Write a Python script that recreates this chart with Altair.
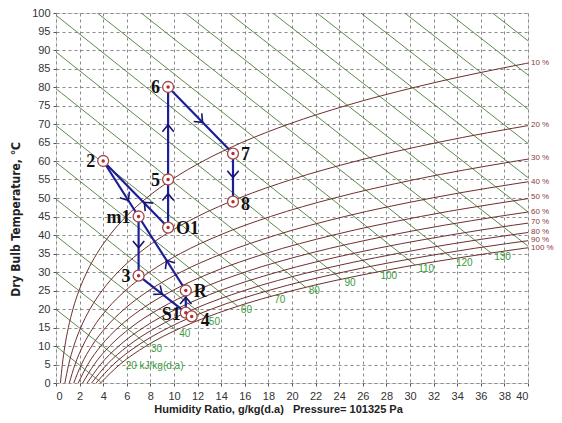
import altair as alt
import pandas as pd

# ---------------- data ----------------
# relative-humidity curves: humidity ratio (g/kg) at each dry-bulb temperature
RH_T = [0, 5, 10, 15, 20, 25, 30, 35, 40, 45, 50, 55, 60, 65, 70, 75, 80, 85, 90]
RH10_W = [0.375, 0.536, 0.755, 1.049, 1.439, 1.951, 2.617, 3.474, 4.564, 5.943, 7.671, 9.822, 12.48, 15.75, 19.75, 24.61, 30.51, 37.64, 46.24]
RH20_W = [0.752, 1.073, 1.511, 2.101, 2.885, 3.915, 5.256, 6.986, 9.197, 12.00, 15.53, 19.96, 25.47, 32.32, 40.79]
RH30_W = [1.128, 1.611, 2.270, 3.157, 4.337, 5.891, 7.918, 10.54, 13.90, 18.18, 23.60, 30.43, 39.01, 49.77]
RH40_W = [1.505, 2.150, 3.030, 4.216, 5.796, 7.880, 10.60, 14.13, 18.67, 24.47, 31.86, 41.24]
RH50_W = [1.882, 2.690, 3.793, 5.279, 7.263, 9.882, 13.31, 17.76, 23.51, 30.90, 40.35]
RH60_W = [2.260, 3.231, 4.557, 6.346, 8.735, 11.895, 16.04, 21.44, 28.43, 37.45, 49.05]
RH70_W = [2.638, 3.772, 5.322, 7.416, 10.215, 13.92, 18.79, 25.16, 33.42, 44.13]
RH80_W = [3.017, 4.315, 6.090, 8.490, 11.70, 15.96, 21.57, 28.92, 38.49, 50.95]
RH90_W = [3.396, 4.859, 6.860, 9.568, 13.196, 18.015, 24.375, 32.72, 43.64]
RH100_W = [3.775, 5.403, 7.632, 10.65, 14.70, 20.08, 27.20, 36.57, 48.87]
RH_LEVELS = [10, 20, 30, 40, 50, 60, 70, 80, 90, 100]
RH_LABELS = ["10 %", "20 %", "30 %", "40 %", "50 %", "60 %", "70 %", "80 %", "90 %", "100 %"]
RH_LABEL_T = [86.4, 69.6, 60.9, 54.4, 50.3, 46.3, 43.5, 40.8, 38.6, 36.4]

# enthalpy lines (kJ/kg): start and end points
H_VALUES = [10, 20, 30, 40, 50, 60, 70, 80, 90, 100, 110, 120, 130, 140, 150, 160, 170, 180, 190, 200]
H_START_W = [0, 0, 0, 0, 0, 0, 0, 0, 0, 0, 3.50, 7.22, 10.94, 14.66, 18.38, 22.11, 25.83, 29.55, 33.27, 36.99]
H_START_T = [9.94, 19.88, 29.82, 39.76, 49.70, 59.64, 69.58, 79.52, 89.46, 99.40, 100, 100, 100, 100, 100, 100, 100, 100, 100, 100]
H_END_W = [3.80, 5.65, 7.79, 10.19, 12.70, 15.41, 18.24, 21.17, 24.20, 27.24, 30.44, 33.64, 36.88, 40, 40, 40, 40, 40, 40, 40]
H_END_T = [0.2, 5.7, 10.3, 14.26, 17.7, 20.74, 23.44, 25.86, 28.06, 30.03, 31.88, 33.57, 35.14, 36.99, 46.24, 55.5, 64.75, 74.0, 83.25, 92.5]
H_LABEL_VALUES = [20, 30, 40, 50, 60, 70, 80, 90, 100, 110, 120, 130]
H_LABELS = ["20 kJ/kg(d.a)", "30", "40", "50", "60", "70", "80", "90", "100", "110", "120", "130"]

# process state points
P_NAMES = ["2", "m1", "O1", "5", "6", "7", "8", "3", "R", "S1", "4"]
P_W = [4.0, 7.0, 9.5, 9.5, 9.5, 15.0, 15.0, 7.0, 11.0, 11.0, 11.5]
P_T = [60, 45, 42, 55, 80, 62, 49, 29, 25, 19, 18]

# process lines
SEG_FROM = ["2", "2", "m1", "3", "S1", "R", "O1", "5", "6", "7"]
SEG_TO = ["m1", "O1", "3", "S1", "R", "m1", "5", "6", "7", "8"]

# direction arrows along the process lines
ARROW_W = [9.5, 9.5, 12.25, 15.0, 6.0, 7.66, 7.0, 8.8, 11.0, 9.5]
ARROW_T = [50.4, 69.0, 71.0, 56.3, 50.0, 48.3, 37.3, 24.5, 22.4, 32.5]
ARROW_ANGLE = [180, 180, 315, 0, 327, 135, 0, 308, 180, 148]

# ---------------- tables ----------------
rh_rows = []
for rh, ws in zip(RH_LEVELS, [RH10_W, RH20_W, RH30_W, RH40_W, RH50_W, RH60_W, RH70_W, RH80_W, RH90_W, RH100_W]):
    for t, w in zip(RH_T, ws):
        rh_rows.append({"rh": rh, "W": w, "T": t})
rh_df = pd.DataFrame(rh_rows)

rh_lab_df = pd.DataFrame({"label": RH_LABELS, "W": [40] * len(RH_LABELS), "T": RH_LABEL_T})

h_rows = []
for h, sw, st, ew, et in zip(H_VALUES, H_START_W, H_START_T, H_END_W, H_END_T):
    h_rows.append({"h": h, "W": sw, "T": st, "o": 0})
    h_rows.append({"h": h, "W": ew, "T": et, "o": 1})
h_df = pd.DataFrame(h_rows)

end_map = {h: (w, t) for h, w, t in zip(H_VALUES, H_END_W, H_END_T)}
h_lab_df = pd.DataFrame({
    "label": H_LABELS,
    "W": [end_map[h][0] for h in H_LABEL_VALUES],
    "T": [end_map[h][1] for h in H_LABEL_VALUES],
})

pts_df = pd.DataFrame({"name": P_NAMES, "W": P_W, "T": P_T})
pmap = {n: (w, t) for n, w, t in zip(P_NAMES, P_W, P_T)}
seg_df = pd.DataFrame({
    "W": [pmap[a][0] for a in SEG_FROM],
    "T": [pmap[a][1] for a in SEG_FROM],
    "W2": [pmap[b][0] for b in SEG_TO],
    "T2": [pmap[b][1] for b in SEG_TO],
})
arr_df = pd.DataFrame({"W": ARROW_W, "T": ARROW_T, "angle": ARROW_ANGLE})

# ---------------- encodings ----------------
SANS = "Liberation Sans, Arial, sans-serif"
NARROW = "DejaVu Sans Condensed, Liberation Sans Narrow, Liberation Sans, sans-serif"
xs = alt.Scale(domain=[0, 40], nice=False, zero=False)
ys = alt.Scale(domain=[0, 100], nice=False, zero=False)
x_axis = alt.Axis(
    values=list(range(0, 41, 2)), title="Humidity Ratio, g/kg(d.a)\u00a0\u00a0\u00a0Pressure= 101325 Pa",
    grid=True, gridDash=[3, 3], gridColor="#8a8a8a", gridWidth=1,
    labelFont=SANS, labelFontSize=11, labelColor="#333", labelPadding=4,
    tickSize=3, tickColor="#555", domain=False,
    titleFont=SANS, titleFontSize=11, titleFontWeight="bold", titleColor="#222",
    titleX=222, titleY=26, titleBaseline="middle",
)
y_axis = alt.Axis(
    values=list(range(0, 101, 5)), title="Dry Bulb Temperature, \u2103",
    grid=True, gridDash=[3, 3], gridColor="#8a8a8a", gridWidth=1,
    labelFont=SANS, labelFontSize=11, labelColor="#333", labelPadding=3,
    tickSize=3, tickColor="#555", domain=False,
    titleFont=NARROW, titleFontSize=12, titleFontWeight="bold", titleColor="#222",
    titleAngle=270, titleX=-41, titleY=206, titleAlign="center", titleBaseline="middle",
)
X = alt.X("W:Q", scale=xs, axis=x_axis)
Y = alt.Y("T:Q", scale=ys, axis=y_axis)

h_lines = alt.Chart(h_df).mark_line(color="#5d8a4e", strokeWidth=1, clip=True).encode(
    x=X, y=Y, detail="h:N", order="o:Q")
rh_lines = alt.Chart(rh_df).mark_line(color="#6e2f2f", strokeWidth=1, clip=True, interpolate="monotone").encode(
    x=X, y=Y, detail="rh:N")
h_labels = alt.Chart(h_lab_df).mark_text(
    align="left", baseline="middle", dx=3, dy=4, font=SANS, fontSize=10, color="#3a9a3a"
).encode(x=X, y=Y, text="label:N")
rh_labels = alt.Chart(rh_lab_df).mark_text(
    align="left", baseline="middle", dx=3, font=SANS, fontSize=8, color="#8a3a3a"
).encode(x=X, y=Y, text="label:N")
segs = alt.Chart(seg_df).mark_rule(color="#1d1d9a", strokeWidth=2.2).encode(
    x=X, y=Y, x2="W2:Q", y2="T2:Q")
arrows = alt.Chart(arr_df).mark_point(
    shape="M-1,-0.7L0,0.5L1,-0.7", size=130, filled=False, stroke="#15156e", strokeWidth=1.6, opacity=1
).encode(x=X, y=Y, angle=alt.Angle("angle:Q", scale=None))
pts_outer = alt.Chart(pts_df).mark_point(
    shape="circle", size=120, filled=True, fill="white", stroke="#a04848", strokeWidth=1.3, opacity=1
).encode(x=X, y=Y)
pts_inner = alt.Chart(pts_df).mark_point(
    shape="circle", size=12, filled=True, color="#c02828", opacity=1
).encode(x=X, y=Y)


def label_layer(names, align, dx, dy):
    return alt.Chart(pts_df).transform_filter(
        alt.FieldOneOfPredicate(field="name", oneOf=names)
    ).mark_text(
        align=align, baseline="middle", dx=dx, dy=dy, font="Liberation Serif", fontSize=18,
        fontWeight="bold", color="#111"
    ).encode(x=X, y=Y, text="name:N")


labels = [
    label_layer(["7", "O1", "R"], "left", 8, 1),
    label_layer(["8"], "left", 8, 3),
    label_layer(["4"], "left", 9, 5),
    label_layer(["6", "5", "2", "3", "m1"], "right", -8, 1),
    label_layer(["S1"], "right", -5, 2),
]

chart = alt.layer(
    h_lines, rh_lines, h_labels, rh_labels, segs, arrows, pts_outer, pts_inner, *labels
).properties(
    width=472, height=370,
    padding={"left": 48, "top": 5, "right": 26, "bottom": 32},
    autosize=alt.AutoSizeParams(type="none"),
).configure_view(stroke="#444", strokeWidth=1.5).configure(background="white")

chart.save("out.html", embed_options={"renderer": "svg", "actions": False})
